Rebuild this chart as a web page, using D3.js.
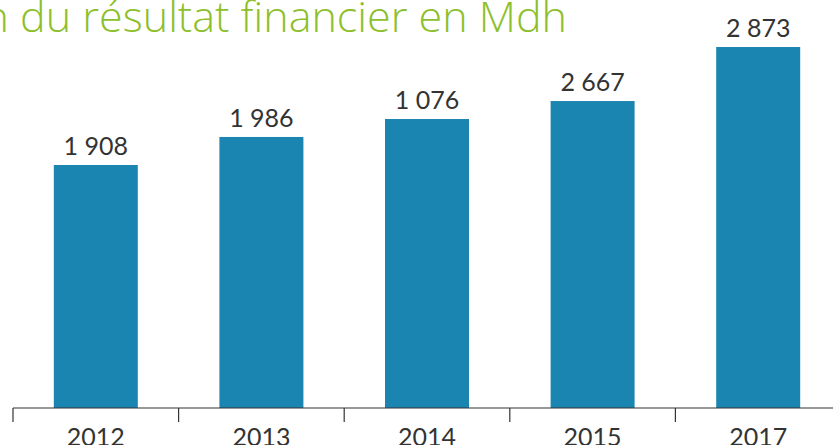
<!DOCTYPE html>
<html>
<head>
<meta charset="utf-8">
<script src="https://cdn.jsdelivr.net/npm/d3@7/dist/d3.min.js"></script>
<style>
  html, body { margin: 0; padding: 0; background: #fff; overflow: hidden; }
  svg { display: block; }
</style>
</head>
<body>
<svg id="chart" width="833" height="445"></svg>
<script>
const years = ["2012", "2013", "2014", "2015", "2017"];
const barValues = [1934, 2157, 2300, 2443, 2873];
const valueLabels = ["1 908", "1 986", "1 076", "2 667", "2 873"];
const titleText = "Évolution du résultat financier en Mdh";

const svg = d3.select("#chart");
const W = 833, H = 445;
const baseY = 408, topY = 47;

const x = d3.scaleBand().domain(years).range([13, 841]).padding(0);
const y = d3.scaleLinear().domain([0, d3.max(barValues)]).range([baseY, topY]);
const barW = 84;
const cx = d => x(d) + x.bandwidth() / 2;

// title: fit visible part "du résultat financier en Mdh" to ~547px
const titleFont = "'Open Sans', Lato, sans-serif";
const probe = svg.append("text")
  .attr("font-family", titleFont).attr("font-size", 100).attr("font-weight", 300)
  .text("du résultat financier en Mdh");
const pw = probe.node().getComputedTextLength();
probe.remove();
const tSize = 100 * 547 / pw;

svg.append("text")
  .attr("x", 567).attr("y", 32)
  .attr("text-anchor", "end")
  .attr("font-family", titleFont)
  .attr("font-weight", 300)
  .attr("font-size", tSize)
  .attr("fill", "#8dbf2c")
  .text(titleText);

const data = years.map((yr, i) => ({ yr, v: barValues[i], lab: valueLabels[i] }));

svg.selectAll("rect.bar").data(data).enter().append("rect")
  .attr("class", "bar")
  .attr("x", d => cx(d.yr) - barW / 2)
  .attr("width", barW)
  .attr("y", d => y(d.v))
  .attr("height", d => baseY - y(d.v))
  .attr("fill", "#1a85b1");

svg.selectAll("text.val").data(data).enter().append("text")
  .attr("class", "val")
  .attr("x", d => cx(d.yr))
  .attr("y", d => y(d.v) - 10)
  .attr("text-anchor", "middle")
  .attr("font-family", "Lato, 'Open Sans', sans-serif")
  .attr("font-size", 25)
  .attr("fill", "#333")
  .text(d => d.lab);

// axis
const axisG = svg.append("g");
axisG.append("line")
  .attr("x1", 13).attr("x2", W).attr("y1", baseY).attr("y2", baseY)
  .attr("stroke", "#333").attr("stroke-width", 1.2);
const bounds = years.map(d => x(d));
axisG.selectAll("line.tick").data(bounds).enter().append("line")
  .attr("class", "tick")
  .attr("x1", d => d).attr("x2", d => d)
  .attr("y1", baseY).attr("y2", baseY + 14)
  .attr("stroke", "#333").attr("stroke-width", 1.2);

svg.selectAll("text.year").data(years).enter().append("text")
  .attr("class", "year")
  .attr("x", d => cx(d))
  .attr("y", 446)
  .attr("text-anchor", "middle")
  .attr("font-family", "Lato, 'Open Sans', sans-serif")
  .attr("font-size", 25)
  .attr("fill", "#333")
  .text(d => d);
</script>
</body>
</html>
